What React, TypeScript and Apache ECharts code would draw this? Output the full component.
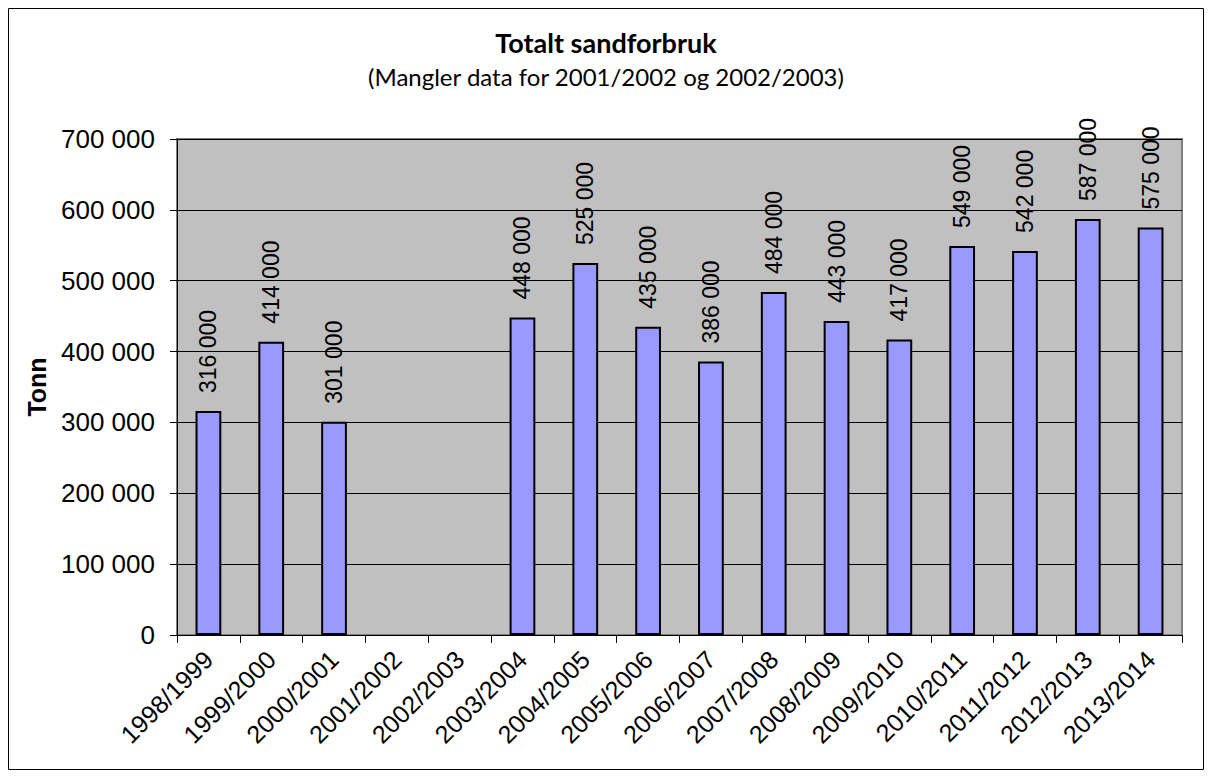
import React, { useEffect, useRef } from "react";
import * as echarts from "echarts";

const categories = [
  "1998/1999", "1999/2000", "2000/2001", "2001/2002", "2002/2003", "2003/2004",
  "2004/2005", "2005/2006", "2006/2007", "2007/2008", "2008/2009", "2009/2010",
  "2010/2011", "2011/2012", "2012/2013", "2013/2014",
];
const values: (number | null)[] = [
  316000, 414000, 301000, null, null, 448000, 525000, 435000, 386000, 484000,
  443000, 417000, 549000, 542000, 587000, 575000,
];
const yTicks = [0, 100000, 200000, 300000, 400000, 500000, 600000, 700000];

const fmt = (v: number) => String(v).replace(/\B(?=(\d{3})+(?!\d))/g, " ");

export default function App() {
  const ref = useRef<HTMLDivElement>(null);
  useEffect(() => {
    if (!ref.current) return;
    const chart = echarts.init(ref.current, null, { renderer: "svg" });
    const arial = "'Liberation Sans', Arial, sans-serif";
    chart.setOption({
      animation: false,
      backgroundColor: "#ffffff",
      title: {
        text: "Totalt sandforbruk",
        subtext: "(Mangler data for 2001/2002 og 2002/2003)",
        left: "center",
        top: 16,
        itemGap: 8,
        textStyle: { fontFamily: "Lato, 'Open Sans', sans-serif", fontWeight: "bold", fontSize: 27, color: "#000" },
        subtextStyle: { fontFamily: "Lato, 'Open Sans', sans-serif", fontSize: 24, color: "#000" },
      },
      graphic: [
        {
          type: "rect",
          shape: { x: 0.5, y: 0.5, width: 1195, height: 761 },
          style: { fill: "none", stroke: "#000", lineWidth: 1 },
          silent: true,
        },
      ],
      grid: {
        left: 169,
        top: 131,
        right: 22,
        bottom: 135,
        show: true,
        backgroundColor: "#C0C0C0",
        borderColor: "#808080",
        borderWidth: 2,
      },
      xAxis: {
        type: "category",
        data: categories,
        boundaryGap: true,
        axisLine: { show: true, lineStyle: { color: "#000", width: 1 } },
        axisTick: { show: true, alignWithLabel: false, length: 8, lineStyle: { color: "#000" } },
        axisLabel: {
          rotate: 45,
          interval: 0,
          margin: 20,
          fontFamily: arial,
          fontSize: 25,
          color: "#000",
        },
      },
      yAxis: {
        type: "value",
        min: 0,
        max: 700000,
        interval: 100000,
        name: "Tonn",
        nameLocation: "middle",
        nameGap: 128,
        nameRotate: 90,
        nameTextStyle: { fontFamily: arial, fontWeight: "bold", fontSize: 25, color: "#000" },
        axisLine: { show: true, lineStyle: { color: "#000" } },
        axisTick: { show: true, length: 7, lineStyle: { color: "#000" } },
        splitLine: { show: true, lineStyle: { color: "#000", width: 1 } },
        axisLabel: {
          fontFamily: arial,
          fontSize: 26,
          color: "#000",
          margin: 22,
          formatter: (v: number) => (yTicks.includes(v) ? fmt(v) : ""),
        },
      },
      series: [
        {
          type: "bar",
          data: values,
          barWidth: "41%",
          itemStyle: { color: "#9999FF", borderColor: "#000", borderWidth: 2 },
          label: {
            show: true,
            position: "top",
            rotate: 90,
            align: "left",
            verticalAlign: "middle",
            distance: 15,
            fontFamily: arial,
            fontSize: 23,
            color: "#000",
            offset: [3, 0],
            formatter: (p: any) => fmt(p.value),
          },
        },
      ],
    });
    return () => chart.dispose();
  }, []);
  return <div ref={ref} style={{ width: 1196, height: 762 }} />;
}
